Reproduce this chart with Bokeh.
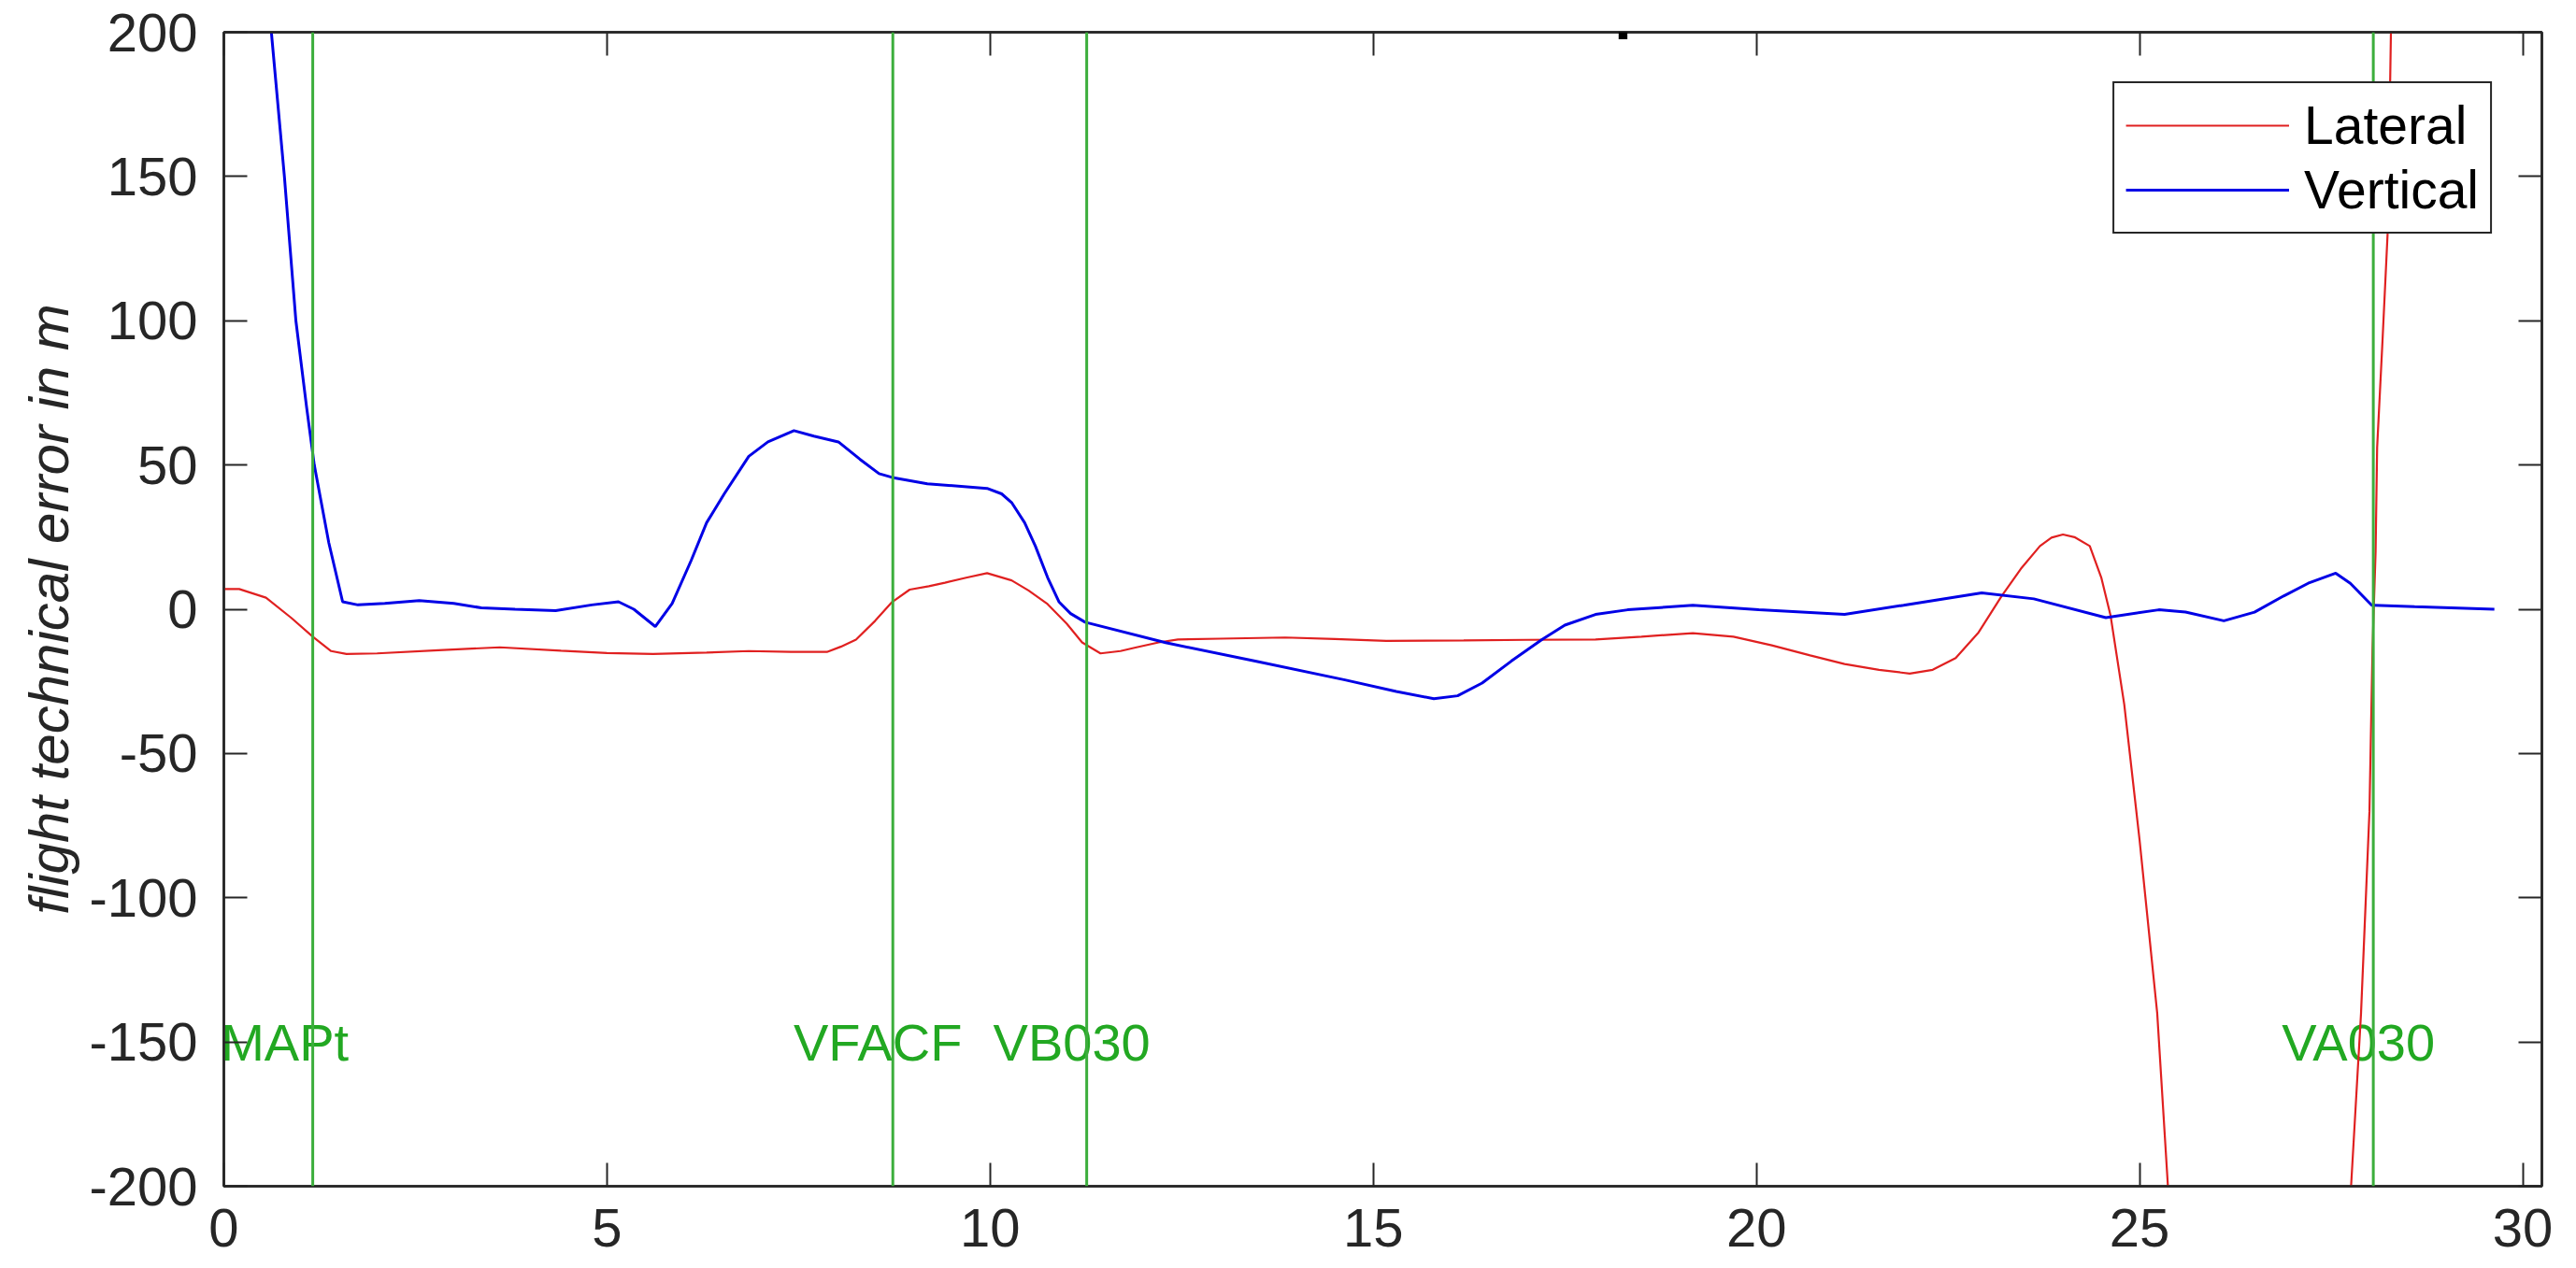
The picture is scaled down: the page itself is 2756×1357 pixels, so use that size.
from bokeh.plotting import figure
from bokeh.models import (Span, Label, Legend, LegendItem, LinearAxis, FixedTicker, Range1d,
                          ColumnDataSource, CustomLabelingPolicy)
from bokeh.embed import file_html
from bokeh.resources import INLINE

# ---------------- data ----------------
lateral_x = [0, 0.2, 0.55, 0.88, 1.16, 1.4, 1.6, 2.0, 2.8, 3.6, 4.4, 5.0, 5.6, 6.3, 6.85, 7.4,
             7.87, 8.05, 8.25, 8.5, 8.72, 8.95, 9.2, 9.41, 9.7, 9.96, 10.28, 10.5, 10.74, 11.0,
             11.2, 11.44, 11.7, 11.91, 12.2, 12.45, 13.0, 13.85, 14.5, 15.17, 16.18, 17.0, 17.9,
             18.5, 19.17, 19.7, 20.2, 20.7, 21.15, 21.6, 22.0, 22.3, 22.6, 22.9, 23.2, 23.45,
             23.7, 23.85, 24.0, 24.15, 24.35, 24.5, 24.62, 24.8, 25.0, 25.23, 25.37, 25.6, 26.5,
             27.5, 27.76, 27.89, 28.0, 28.04, 28.08, 28.1, 28.17, 28.24, 28.28, 28.4]
lateral_y = [7, 7, 4, -3, -9.5, -14.5, -15.5, -15.3, -14.2, -13.2, -14.4, -15.2, -15.5, -15, -14.5,
             -14.8, -14.8, -13, -10.5, -4, 2.5, 6.8, 8, 9.2, 11, 12.5, 10, 6.5, 2, -5, -11.5,
             -15.3, -14.5, -13.2, -11.5, -10.5, -10.2, -9.8, -10.3, -11, -10.8, -10.6, -10.5,
             -9.5, -8.3, -9.5, -12.5, -16, -19, -21, -22.3, -21, -16.9, -8, 4.6, 14, 21.9, 24.8,
             25.9, 25, 21.9, 11, -2, -33, -80, -140, -200, -270, -420, -290, -200, -140, -70,
             -13.5, 20, 56, 93, 132, 200, 280]

vertical_x = [0, 0.62, 0.79, 0.94, 1.08, 1.18, 1.37, 1.55, 1.75, 2.1, 2.55, 3.0, 3.36, 3.8, 4.33,
              4.8, 5.15, 5.35, 5.63, 5.85, 6.1, 6.3, 6.53, 6.85, 7.1, 7.44, 7.7, 8.02, 8.3, 8.55,
              8.72, 9.18, 9.96, 10.15, 10.28, 10.45, 10.59, 10.75, 10.9, 11.05, 11.24, 12.29,
              13.46, 14.63, 15.3, 15.79, 16.1, 16.42, 16.8, 17.2, 17.5, 17.9, 18.32, 19.17, 20.03,
              21.15, 21.92, 22.94, 23.62, 24.56, 25.25, 25.6, 26.1, 26.5, 26.88, 27.2, 27.56,
              27.75, 28.03, 28.59, 29.63]
vertical_y = [386, 200, 150, 100, 70, 50, 23, 2.6, 1.5, 2, 3, 2, 0.5, 0, -0.5, 1.5, 2.6, 0, -6, 2,
              17, 30, 40, 53, 58, 61.9, 60, 58, 52, 47, 45.7, 43.5, 41.9, 40, 37, 30, 21.9, 11,
              2.5, -1.5, -4.5, -11.6, -18, -24.5, -28.5, -31, -30, -25.6, -18, -10.5, -5.5, -1.8,
              -0.2, 1.4, -0.2, -1.8, 1.4, 5.7, 3.6, -2.9, -0.2, -1, -4.0, -1, 4.6, 9, 12.5, 9,
              1.4, 0.9, 0]

waypoint_names = ["MAPt", "VFACF", "VB030", "VA030"]
waypoint_x = [1.16, 8.73, 11.26, 28.05]

x_ticks = [0, 5, 10, 15, 20, 25, 30]
y_ticks = [-200, -150, -100, -50, 0, 50, 100, 150, 200]
series_names = ["Lateral", "Vertical"]
title_text = "ATR 72-500 RNAV - 30 April 2016"
y_label = "flight technical error in m"

# ---------------- styling ----------------
FONT = "Liberation Sans"
AXC = "#262626"
RED = "#e02020"
BLUE = "#0000e6"
GREEN_LINE = "#3cae3c"
GREEN_TEXT = "#22a822"
WP_LABEL_Y = -150
wp_label_dx = [-30, -16, -16, -16]   # pixel nudges of the waypoint labels

p = figure(frame_width=2480, frame_height=1235,
           x_range=Range1d(0, 30.25), y_range=Range1d(-200, 200),
           output_backend="svg", toolbar_location=None,
           min_border_left=239, min_border_top=34, min_border_right=20, min_border_bottom=88,
           background_fill_color="white", border_fill_color="white")
p.grid.visible = False
p.outline_line_color = AXC
p.outline_line_width = 2.5

hide_labels = CustomLabelingPolicy(
    code="for (const i of Array.from(indices)) { indices.unset(i) }\nreturn indices")


def style_axis(ax, ticks, show_labels):
    ax.ticker = FixedTicker(ticks=ticks)
    ax.axis_line_color = AXC
    ax.axis_line_width = 2.5
    ax.major_tick_line_color = AXC
    ax.major_tick_line_width = 2
    ax.major_tick_in = 25
    ax.major_tick_out = 0
    ax.minor_tick_line_color = None
    ax.major_label_text_font = FONT
    ax.major_label_text_color = AXC
    ax.major_label_overrides = {t: str(t) for t in ticks}
    if show_labels:
        ax.major_label_text_font_size = "58px"
    else:
        ax.major_label_text_font_size = "0px"
        ax.major_label_policy = hide_labels
        ax.major_label_standoff = 0


style_axis(p.xaxis[0], x_ticks, True)
style_axis(p.yaxis[0], y_ticks, True)
p.xaxis[0].major_label_standoff = 24
p.yaxis[0].major_label_standoff = 28
p.yaxis[0].axis_label = y_label
p.yaxis[0].axis_label_text_font = FONT
p.yaxis[0].axis_label_text_font_size = "60px"
p.yaxis[0].axis_label_text_font_style = "italic"
p.yaxis[0].axis_label_text_color = AXC
p.yaxis[0].axis_label_standoff = 6

top_ax = LinearAxis()
style_axis(top_ax, x_ticks, False)
p.add_layout(top_ax, "above")
right_ax = LinearAxis()
style_axis(right_ax, y_ticks, False)
p.add_layout(right_ax, "right")

# waypoint lines and labels
for wx in waypoint_x:
    p.add_layout(Span(location=wx, dimension="height", line_color=GREEN_LINE, line_width=3))

wp_src = ColumnDataSource(dict(x=waypoint_x, name=waypoint_names, dx=wp_label_dx))
p.text(x="x", y=WP_LABEL_Y, text="name", source=wp_src, text_align="center",
       text_baseline="middle", x_offset="dx", text_font_size="56px", text_color=GREEN_TEXT,
       text_font={"value": FONT})

lat = p.line(lateral_x, lateral_y, line_color=RED, line_width=2.2)
ver = p.line(vertical_x, vertical_y, line_color=BLUE, line_width=3)

legend = Legend(items=[LegendItem(label=series_names[0], renderers=[lat]),
                       LegendItem(label=series_names[1], renderers=[ver])],
                location="top_right", margin=53,
                border_line_color=AXC, border_line_width=2.5, border_line_alpha=1,
                background_fill_color="white", background_fill_alpha=1,
                label_text_font=FONT, label_text_font_size="57px", label_text_color="black",
                glyph_width=175, glyph_height=50, label_standoff=16,
                padding=12, spacing=3)
p.add_layout(legend)

# title (mostly cut off at the top edge, as in the original)
p.add_layout(Label(x=1240, y=1266, x_units="screen", y_units="screen", text=title_text,
                   text_align="center", text_baseline="alphabetic",
                   text_font=FONT, text_font_style="bold", text_font_size="68px",
                   text_color="black"))

open("out.html", "w").write(file_html(p, INLINE))
